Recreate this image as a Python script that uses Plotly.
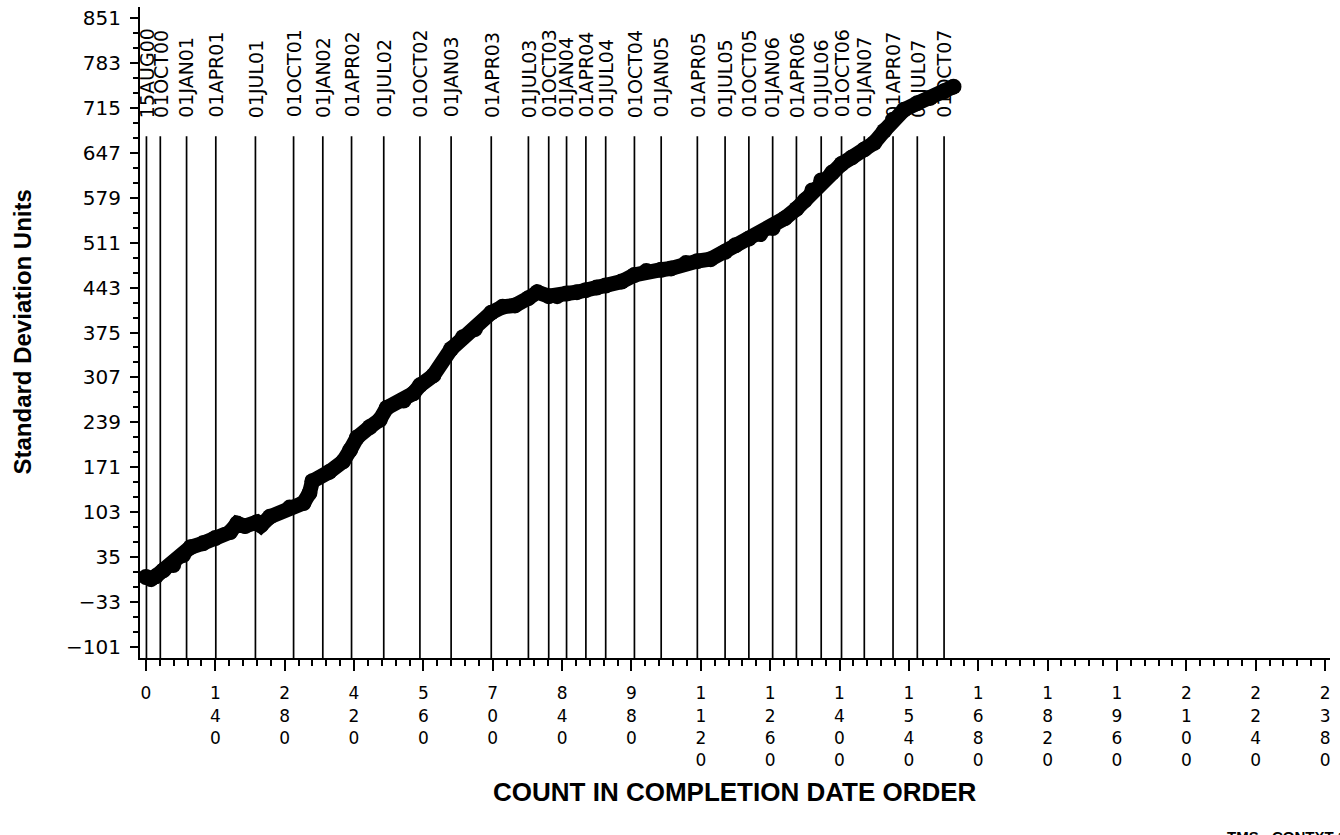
import plotly.graph_objects as go

# ---- data ----
count = [0, 10, 20, 35, 55, 75, 90, 115, 140, 170, 184, 200, 224, 232, 250, 290, 318, 330, 336,
         370, 398, 412, 426, 452, 472, 486, 520, 540, 553, 580, 616, 640, 664, 697, 720, 745,
         772, 790, 813, 830, 849, 870, 888, 910, 928, 960, 986, 1010, 1040, 1060, 1090, 1113,
         1140, 1169, 1190, 1217, 1240, 1265, 1290, 1313, 1330, 1345, 1363, 1385, 1404, 1425,
         1450, 1470, 1490, 1508, 1530, 1557, 1583, 1611, 1630]
sdu = [5, 2, 6, 15, 23, 38, 50, 56, 64, 73, 86, 82, 88, 83, 96, 110, 117, 132, 150,
       164, 180, 197, 216, 232, 243, 261, 272, 283, 295, 310, 350, 368, 380, 405, 414, 416,
       427, 436, 430, 430, 434, 436, 439, 443, 446, 452, 462, 468, 470, 472, 480, 483,
       486, 497, 507, 517, 524, 533, 548, 562, 575, 590, 605, 617, 630, 640,
       652, 662, 680, 697, 712, 722, 730, 740, 747]

date_labels = ["15AUG00", "01OCT00", "01JAN01", "01APR01", "01JUL01", "01OCT01",
               "01JAN02", "01APR02", "01JUL02", "01OCT02", "01JAN03", "01APR03",
               "01JUL03", "01OCT03", "01JAN04", "01APR04", "01JUL04", "01OCT04",
               "01JAN05", "01APR05", "01JUL05", "01OCT05", "01JAN06", "01APR06",
               "01JUL06", "01OCT06", "01JAN07", "01APR07", "01JUL07", "01OCT07"]
date_counts = [1, 29, 82, 141, 221, 298, 357, 415, 480, 553, 616, 697, 772, 813, 849,
               888, 928, 986, 1040, 1113, 1169, 1217, 1265, 1313, 1363, 1404, 1450,
               1508, 1557, 1611]

x_ticks = list(range(0, 2381, 140))
y_ticks = list(range(-101, 852, 68))

# ---- styling constants ----
FONT = "DejaVu Sans"
BOLD = "Liberation Sans"
X_RANGE = [-12, 2390]
Y_RANGE = [-117.6, 867.6]
REF_TOP = 672
LABEL_BASE = 697

fig = go.Figure()

# reference lines (dates)
for c in date_counts:
    fig.add_shape(type="line", xref="x", yref="y", x0=c, x1=c,
                  y0=Y_RANGE[0], y1=REF_TOP, line=dict(color="black", width=1.7), layer="below")

for lab, c in zip(date_labels, date_counts):
    fig.add_annotation(x=c, y=LABEL_BASE, xref="x", yref="y", text=lab, textangle=-90,
                       showarrow=False, xanchor="center", yanchor="bottom",
                       font=dict(family=FONT, size=19, color="black"))

fig.add_trace(go.Scatter(
    x=count, y=sdu, mode="lines+markers",
    line=dict(color="black", width=15),
    marker=dict(color="black", size=16, symbol="circle"),
    showlegend=False, cliponaxis=False))

fig.update_xaxes(
    range=X_RANGE, showgrid=False, zeroline=False,
    showline=True, linecolor="black", linewidth=2,
    tickmode="array", tickvals=x_ticks,
    ticktext=["<br>".join(list(str(v))) for v in x_ticks],
    ticks="outside", ticklen=11, tickwidth=1.5, tickcolor="black",
    ticklabelstandoff=8,
    minor=dict(ticks="outside", ticklen=6, tickwidth=1.5, tickcolor="black",
               tick0=0, dtick=28),
    tickfont=dict(family=FONT, size=17, color="black"))

fig.update_yaxes(
    range=Y_RANGE, showgrid=False, zeroline=False,
    showline=True, linecolor="black", linewidth=2,
    tickmode="array", tickvals=y_ticks, ticktext=[str(v).replace("-", "\u2212") for v in y_ticks],
    ticks="outside", ticklen=8, tickwidth=1.5, tickcolor="black",
    ticklabelstandoff=5,
    minor=dict(ticks="outside", ticklen=5, tickwidth=1.5, tickcolor="black",
               tick0=-101, dtick=68 / 3),
    tickfont=dict(family=FONT, size=20, color="black"))

# axis titles
fig.add_annotation(xref="paper", yref="paper", x=0, y=0.5, xshift=-118,
                   text="<b>Standard Deviation Units</b>", textangle=-90, showarrow=False,
                   xanchor="center", yanchor="middle",
                   font=dict(family=BOLD, size=24, color="black"))
fig.add_annotation(xref="paper", yref="paper", x=0.5, y=0, yshift=-134,
                   text="<b>COUNT IN COMPLETION DATE ORDER</b>", showarrow=False,
                   xanchor="center", yanchor="middle",
                   font=dict(family=BOLD, size=26, color="black"))
fig.add_annotation(xref="paper", yref="paper", x=1, y=0, xshift=-105, yshift=-168,
                   text="<b>TMS - CONTXT 12</b>", showarrow=False,
                   xanchor="left", yanchor="top",
                   font=dict(family=BOLD, size=15, color="black"))

fig.update_layout(
    width=1340, height=835,
    margin=dict(l=140, r=10, t=7, b=177),
    paper_bgcolor="white", plot_bgcolor="white",
    showlegend=False)

fig.write_html("out.html", config={"displayModeBar": False},
               post_script="document.body.style.margin='0';")
